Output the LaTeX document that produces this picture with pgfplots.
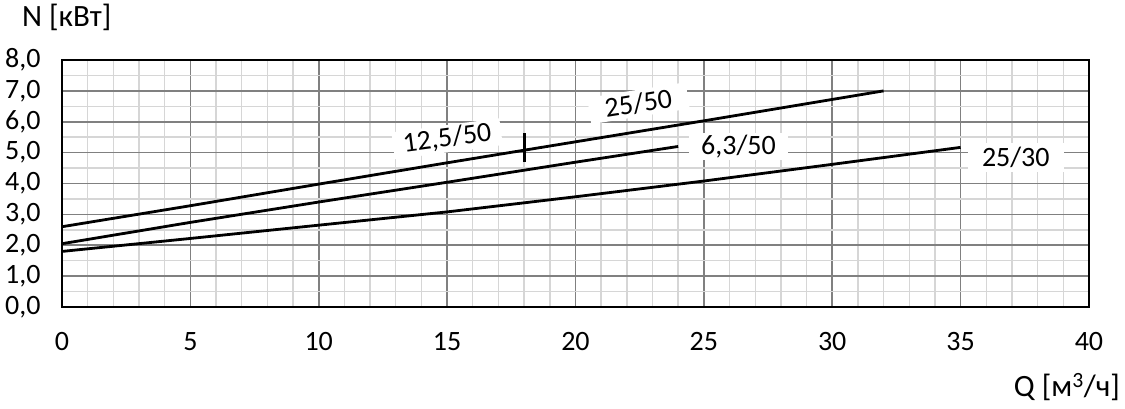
\documentclass[border=0pt]{standalone}
\usepackage{pgfplots}
\pgfplotsset{compat=1.18}
\usepackage{fontspec}
\setmainfont{Carlito}
\definecolor{majgrid}{RGB}{128,128,128}
\definecolor{mingrid}{RGB}{214,214,214}

\begin{document}
\begin{tikzpicture}
\begin{axis}[scale only axis, width=1027pt, height=247pt,
  xmin=0, xmax=40, ymin=0, ymax=8,
  xtick={0,5,...,40}, ytick={0,1,...,8},
  minor x tick num=4, minor y tick num=1,
  grid=both,
  major grid style={majgrid, line width=1.6pt},
  minor grid style={mingrid, line width=1.4pt},
  axis line style={black, line width=2pt},
  major tick length=0pt, minor tick length=0pt,
  tick label style={font=\fontsize{28}{32}\selectfont},
  yticklabel style={/pgf/number format/use comma, /pgf/number format/fixed, /pgf/number format/fixed zerofill, /pgf/number format/precision=1, xshift=-18pt},
  /pgf/number format/assume math mode=true,
  xticklabel style={yshift=-22pt},
  clip=false]
% 25/50
\addplot[black, line width=2.8pt] coordinates {(0,2.6) (5,3.28) (10,3.98) (15,4.67) (20,5.35) (25,6.03) (32,7.0)};
% 6,3/50
\addplot[black, line width=2.8pt] coordinates {(0,2.05) (5,2.74) (10,3.40) (15,4.04) (20,4.69) (24,5.2)};
% 25/30
\addplot[black, line width=2.8pt] coordinates {(0,1.8) (5,2.22) (10,2.65) (15,3.08) (20,3.57) (25,4.08) (30,4.62) (35,5.17)};
% 12,5/50 marker
\addplot[black, line width=2.8pt] coordinates {(18,4.7) (18,5.65)};
\node[fill=white, inner xsep=10pt, inner ysep=2pt, rotate=7.5, font=\fontsize{28}{32}\selectfont] at (axis cs:15.0,5.45) {12,5/50};
\node[fill=white, inner xsep=16pt, inner ysep=3pt, rotate=9, font=\fontsize{28}{32}\selectfont] at (axis cs:22.45,6.6) {25/50};
\node[fill=white, inner xsep=12pt, inner ysep=2pt, font=\fontsize{28}{32}\selectfont] at (axis cs:26.35,5.2) {6,3/50};
\node[fill=white, inner xsep=14pt, inner ysep=4pt, font=\fontsize{28}{32}\selectfont] at (axis cs:37.15,4.85) {25/30};
\end{axis}
\node[anchor=west, font=\fontsize{31}{34}\selectfont, inner sep=0pt] at (-40pt,290pt) {N [кВт]};
\node[anchor=east, font=\fontsize{31}{34}\selectfont, inner sep=0pt] at (1058pt,-80pt) {Q [м\textsuperscript{3}/ч]};
\pgfresetboundingbox
\path[use as bounding box] (-62pt,-102pt) rectangle (1063pt,307pt);
\end{tikzpicture}
\end{document}
